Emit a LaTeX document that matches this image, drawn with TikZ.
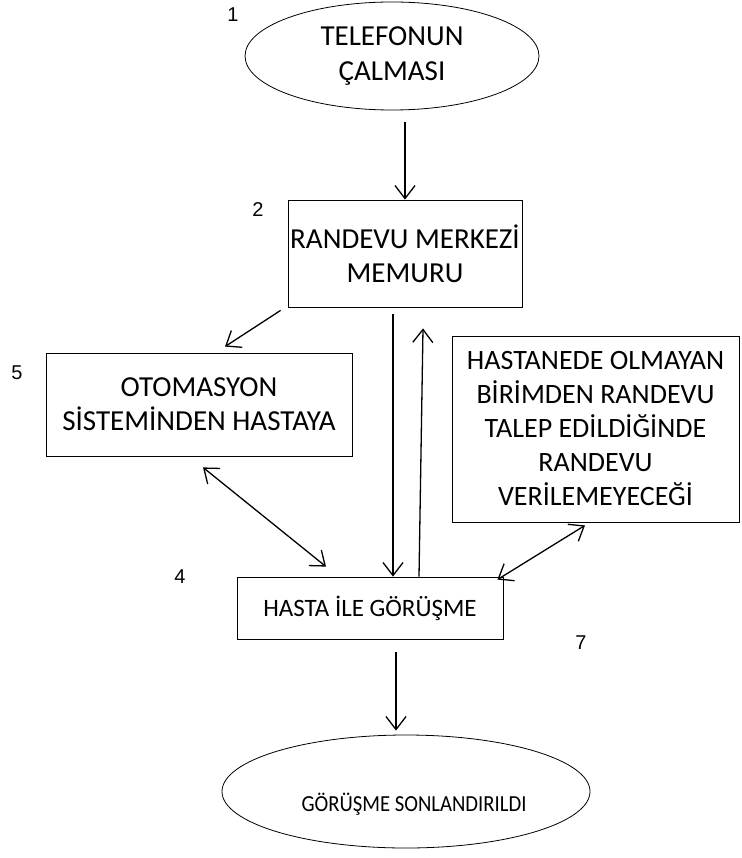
\documentclass[tikz,border=0pt]{standalone}
\usepackage{fontspec}
\setmainfont{Carlito}
\newfontfamily\numfont{Liberation Sans}
\usetikzlibrary{shapes.geometric,arrows.meta}
\tikzstyle{terminal} = [ellipse, draw=black, line width=0.8pt, inner sep=0pt, text centered, align=center, font=\fontsize{29}{35}\selectfont]
\tikzstyle{process} = [rectangle, draw=black, line width=0.8pt, inner sep=0pt, text centered, align=center, font=\fontsize{29}{34}\selectfont]
\tikzstyle{stepno} = [inner sep=0pt, font=\numfont\fontsize{20}{22}\selectfont]
\tikzstyle{arrow} = [line width=1.3pt,-{Straight Barb[length=13pt,width=20pt]}]
\tikzstyle{darrow} = [line width=1.3pt,{Straight Barb[length=13pt,width=20pt]}-{Straight Barb[length=13pt,width=20pt]}]

\begin{document}
\begin{tikzpicture}
\useasboundingbox (0,0) rectangle (741pt,-858pt);

\node(start) [terminal, minimum width=294pt, minimum height=108pt] at (392pt,-56pt) {TELEFONUN\\ÇALMASI};
\node(pro1) [process, minimum width=234pt, minimum height=107pt, node distance=197.5pt, below of=start, xshift=13pt] {RANDEVU MERKEZİ\\MEMURU};
\node(pro2a) [process, minimum width=306pt, minimum height=103pt, node distance=151pt, below of=pro1, xshift=-206pt] {OTOMASYON\\SİSTEMİNDEN HASTAYA};
\node(pro2b) [process, minimum width=287pt, minimum height=186pt, node distance=175.5pt, below of=pro1, xshift=190.5pt, font=\fontsize{28}{34}\selectfont] {HASTANEDE OLMAYAN\\BİRİMDEN RANDEVU\\TALEP EDİLDİĞİNDE\\RANDEVU\\VERİLEMEYECEĞİ};
\node(pro3) [process, minimum width=266pt, minimum height=62pt, node distance=354.5pt, below of=pro1, xshift=-35pt, font=\fontsize{25}{28}\selectfont] {HASTA İLE GÖRÜŞME};
\node(stop) [terminal, minimum width=368pt, minimum height=113pt, node distance=183.5pt, below of=pro3, xshift=36pt, font=\fontsize{23}{28}\selectfont] {\hspace*{16pt}\raisebox{-13pt}[\height][\depth]{\scalebox{0.9}[1]{GÖRÜŞME SONLANDIRILDI}}};

% step numbers
\node(n1) [stepno, node distance=159pt, left of=start, yshift=41pt] {1};
\node(n2) [stepno, node distance=147pt, left of=pro1, yshift=43.5pt] {2};
\node(n5) [stepno, node distance=182pt, left of=pro2a, yshift=31.5pt] {5};
\node(n4) [stepno, node distance=190pt, left of=pro3, yshift=31pt] {4};
\node(n7) [stepno, node distance=211pt, right of=pro3, yshift=-35pt] {7};

\draw [arrow] ([xshift=13pt,yshift=-12pt]start.south) -- (pro1.north);
\draw [arrow] ([xshift=-7pt,yshift=-3pt]pro1.south west) -- ([xshift=26pt,yshift=6pt]pro2a.north);
\draw [arrow] ([xshift=-12pt,yshift=-7pt]pro1.south) -- ([xshift=23pt]pro3.north);
\draw [arrow] ([xshift=49pt]pro3.north) -- ([xshift=18pt,yshift=-21pt]pro1.south);
\draw [darrow] ([xshift=4pt,yshift=-11pt]pro2a.south) -- ([xshift=-44pt,yshift=10pt]pro3.north);
\draw [darrow] ([xshift=-10.5pt,yshift=-3pt]pro2b.south) -- ([xshift=-6pt,yshift=-3pt]pro3.north east);
\draw [arrow] ([xshift=26pt,yshift=-13pt]pro3.south) -- ([xshift=-10pt,yshift=4pt]stop.north);

\end{tikzpicture}
\end{document}
